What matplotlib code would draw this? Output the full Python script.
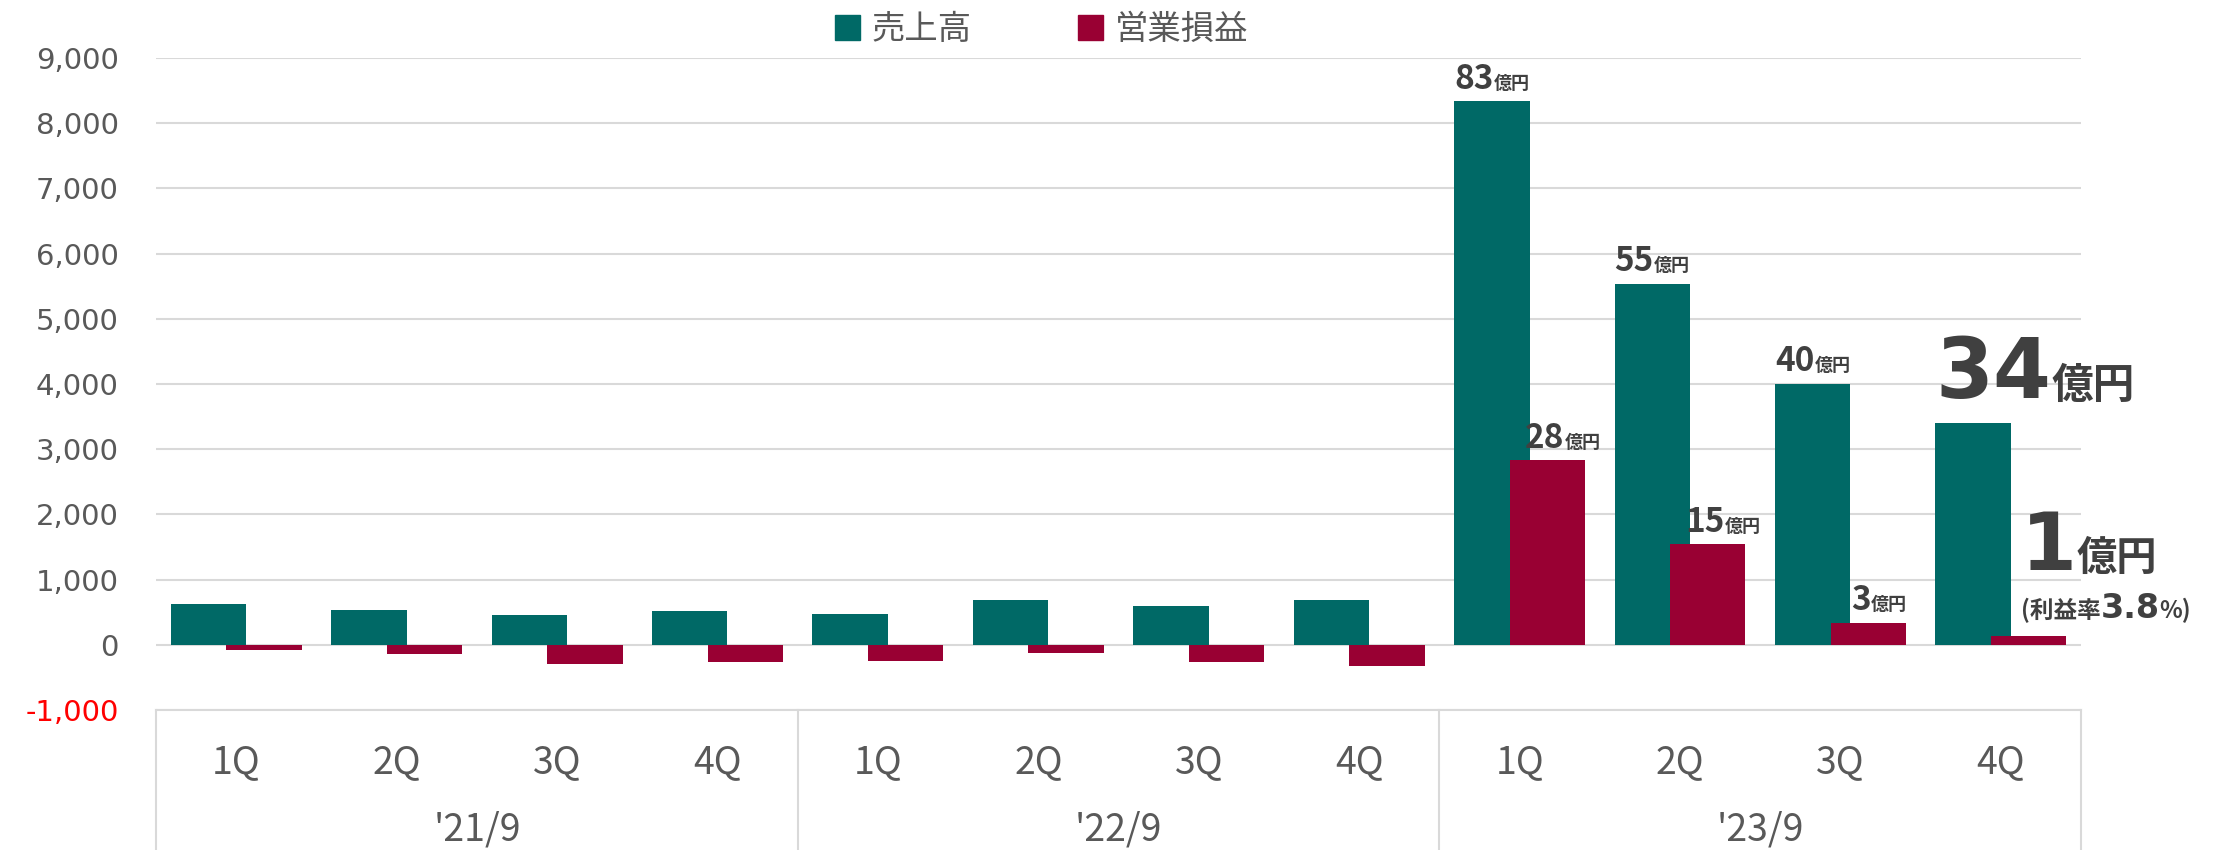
import numpy as np
import matplotlib.pyplot as plt
from matplotlib.patches import Patch
from matplotlib.offsetbox import TextArea, HPacker, VPacker, AnnotationBbox

# quarterly figures, million yen
years = ["'21/9", "'22/9", "'23/9"]
quarters = ["1Q", "2Q", "3Q", "4Q"]
sales = [620, 540, 460, 520, 480, 682, 600, 682, 8340, 5540, 4000, 3400]
op_income = [-85, -145, -288, -268, -242, -126, -268, -328, 2830, 1540, 340, 130]
n_labeled = 4  # last four quarters get 億円 labels

teal = "#006966"
wine = "#990033"
grey = "#595959"
dark = "#404040"
line = "#D9D9D9"
jp = "Noto Sans CJK JP"

plt.rcParams['font.family'] = [jp, 'DejaVu Sans']

fig = plt.figure(figsize=(22.26, 8.5), dpi=100)
ax = fig.add_axes([0.0701, 0.1647, 0.8648, 0.767])

x = np.arange(len(sales))
w = 0.47
off = 0.173
ax.bar(x - off, sales, w, color=teal, zorder=2)
ax.bar(x + off, op_income, w, color=wine, zorder=3)

ax.set_xlim(-0.5, len(sales) - 0.5)
ax.set_ylim(-1000, 9000)
ax.set_yticks(range(-1000, 9001, 1000))
ax.set_yticklabels([f"{v:,}" for v in range(-1000, 9001, 1000)],
                   family='DejaVu Sans')
ax.tick_params(axis='y', length=0, pad=27, labelsize=21, labelcolor=grey)
ax.get_yticklabels()[0].set_color('red')
ax.set_xticks([])
ax.yaxis.grid(True, color=line, lw=1.5, zorder=0)
for s in ['top', 'right', 'left']:
    ax.spines[s].set_visible(False)
ax.spines['bottom'].set_color(line)
ax.spines['bottom'].set_linewidth(1.5)

# two-level category axis
tr = ax.get_xaxis_transform()
for b in np.arange(-0.5, len(sales), 4):
    ax.plot([b, b], [0, -0.3], color=line, lw=1.5, transform=tr, clip_on=False)
for i in range(len(sales)):
    ax.text(i, -0.080, quarters[i % 4], transform=tr, ha='center', va='center',
            fontsize=27, color=grey)
for j, yr in enumerate(years):
    ax.text(4 * j + 1.5, -0.184, yr, transform=tr, ha='center', va='center',
            fontsize=27, color=grey)


def oku_label(value, big, small, numfont=jp):
    num = TextArea(f"{round(value / 100)}", textprops=dict(
        fontsize=big, fontweight='bold', color=dark, family=numfont))
    unit = TextArea("億円", textprops=dict(
        fontsize=small, fontweight='bold', color=dark, family=jp))
    return HPacker(children=[num, unit], align='baseline', pad=0, sep=0)


# labels for '23/9 1Q-3Q; profit labels nudged right off the sales bar
start = len(sales) - n_labeled
op_dx = [11, 11, 8]
for n, i in enumerate(range(start, len(sales) - 1)):
    for xi, v, dx in [(i - off, sales[i], 0), (i + off, op_income[i], op_dx[n])]:
        ab = AnnotationBbox(oku_label(v, 24, 13), (xi, v), xybox=(dx, 4),
                            xycoords='data', boxcoords='offset points',
                            box_alignment=(0.5, 0), frameon=False,
                            annotation_clip=False)
        ax.add_artist(ab)

# latest quarter, highlighted
k = len(sales) - 1
big_sales = oku_label(sales[k], 60, 30, numfont='DejaVu Sans')
ab = AnnotationBbox(big_sales, (k - off - w / 2, sales[k]), xybox=(0, 6),
                    xycoords='data', boxcoords='offset points',
                    box_alignment=(0, 0), frameon=False, annotation_clip=False)
ax.add_artist(ab)

margin = op_income[k] / sales[k] * 100
big_op = oku_label(op_income[k], 58, 29, numfont='DejaVu Sans')
rate = HPacker(children=[
    TextArea("(利益率", textprops=dict(fontsize=17, fontweight='bold', color=dark, family=jp)),
    TextArea(f"{margin:.1f}", textprops=dict(fontsize=24, fontweight='bold', color=dark,
                                              family='DejaVu Sans')),
    TextArea("%)", textprops=dict(fontsize=17, fontweight='bold', color=dark, family=jp)),
], align='baseline', pad=0, sep=0)
box = VPacker(children=[big_op, rate], align='left', pad=0, sep=4)
ab = AnnotationBbox(box, (k + off - 0.05, op_income[k]), xybox=(0, 8),
                    xycoords='data', boxcoords='offset points',
                    box_alignment=(0, 0), frameon=False, annotation_clip=False)
ax.add_artist(ab)

handles = [Patch(color=teal, label="売上高"), Patch(color=wine, label="営業損益")]
fig.legend(handles=handles, loc='center', bbox_to_anchor=(0.468, 0.965), ncol=2,
           frameon=False, fontsize=24, labelcolor=grey, handlelength=0.75,
           handleheight=0.75, handletextpad=0.35, columnspacing=3.2)

fig.savefig("out.png", dpi=100)
